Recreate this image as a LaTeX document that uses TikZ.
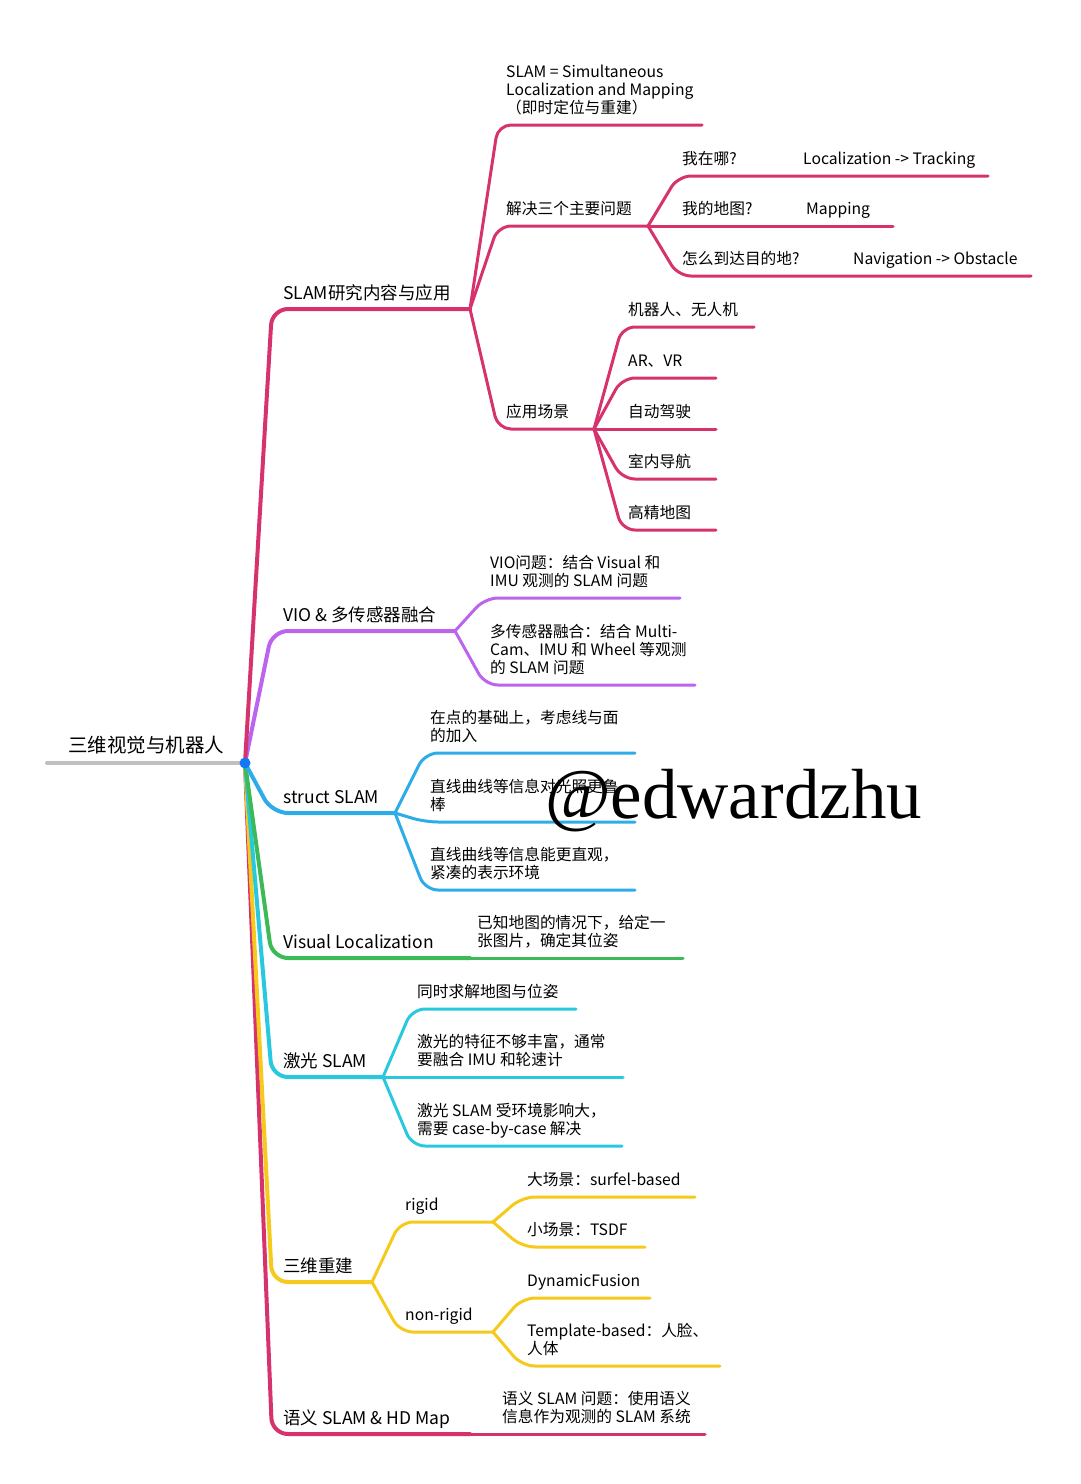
\documentclass[tikz,border=0pt]{standalone}
\usepackage{fontspec}
\setmainfont{Noto Sans CJK SC}
\newfontfamily\markfont{Liberation Serif}
\usepackage{xcolor}
\usetikzlibrary{calc}

\definecolor{rootgray}{RGB}{192,192,192}
\definecolor{hubblue}{RGB}{20,120,245}
\definecolor{mapred}{RGB}{214,50,110}
\definecolor{mappurple}{RGB}{188,100,238}
\definecolor{mapblue}{RGB}{45,172,232}
\definecolor{mapgreen}{RGB}{60,186,88}
\definecolor{mapcyan}{RGB}{40,200,222}
\definecolor{mapyellow}{RGB}{246,202,28}

\tikzset{
	trunk/.style = {line width = 4pt, rounded corners = 16pt, line cap = round},
	twig/.style = {line width = 3pt, rounded corners = 13pt, line cap = round},
	leaf/.style = {anchor = south west, inner sep = 0pt, align = left, yshift = 5.6pt,
		font = \fontsize{15.7}{18}\selectfont, execute at end node = \strut},
	bough/.style = {leaf, yshift = -3pt, font = \fontsize{17.5}{21}\selectfont},
}

% connector: from a junction, over a corner, along the underline
\newcommand{\limb}[4][]{\draw[#1] (#2) -- ($(#2|-#3)+(#4,0)$) -- (#3);}

\begin{document}
\begin{tikzpicture}[x = 1pt, y = -1pt]
	\useasboundingbox (0,0) rectangle (1080,1484);
	
	%centre of the map
	\coordinate (hub) at (245,763);
	\coordinate (rootL) at (47,763);
	\def\off{28};
	
	\draw [rootgray, line width = 4pt, line cap = round] (rootL) -- (hub);
	\node [leaf, yshift = -2.5pt, font = \fontsize{19.5}{23}\selectfont] (root) at (68,763) {三维视觉与机器人};
	
	%ends of the main branches
	\coordinate (slamJ) at (470,309);
	\coordinate (vioJ) at (455,631);
	\coordinate (structJ) at (395,813);
	\coordinate (vlocJ) at (470,958);
	\coordinate (laserJ) at (383,1077);
	\coordinate (reconJ) at (372,1282);
	\coordinate (semJ) at (470,1434);
	
	\limb[trunk, mapred]{hub}{semJ}{27}
	\limb[trunk, mapyellow]{hub}{reconJ}{27}
	\limb[trunk, mapcyan]{hub}{laserJ}{27}
	\limb[trunk, mapgreen]{hub}{vlocJ}{27}
	\limb[trunk, mapblue]{hub}{structJ}{27}
	\limb[trunk, mappurple]{hub}{vioJ}{27}
	\limb[trunk, mapred]{hub}{slamJ}{27}
	
	\node [bough] (slam) at (283,309) {SLAM研究内容与应用};
	\node [bough] (vio) at (283,631) {VIO \& 多传感器融合};
	\node [bough] (struct) at (283,813) {struct SLAM};
	\node [bough] (vloc) at (283,958) {Visual Localization};
	\node [bough] (laser) at (283,1077) {激光 SLAM};
	\node [bough] (recon) at (283,1282) {三维重建};
	\node [bough] (sem) at (283,1434) {语义 SLAM \& HD Map};
	
	%SLAM research and applications
	\coordinate (defE) at (702,125);
	\coordinate (probJ) at (648,226);
	\coordinate (appJ) at (594,429);
	
	\limb[twig, mapred]{slamJ}{defE}{\off}
	\limb[twig, mapred]{slamJ}{probJ}{\off}
	\limb[twig, mapred]{slamJ}{appJ}{\off}
	
	\node [leaf] (def) at (506,125) {SLAM = Simultaneous\\Localization and Mapping\\（即时定位与重建）};
	\node [leaf] (prob) at (506,226) {解决三个主要问题};
	\node [leaf] (app) at (506,429) {应用场景};
	
	%three main problems
	\coordinate (whereE) at (988,176);
	\coordinate (mapE) at (893,226);
	\coordinate (howE) at (1031,276);
	
	\limb[twig, mapred]{probJ}{whereE}{30}
	\limb[twig, mapred]{probJ}{mapE}{30}
	\limb[twig, mapred]{probJ}{howE}{30}
	
	\node [leaf] (where) at (682,176) {我在哪?};
	\node [leaf] (whereEn) at (803,176) {Localization -> Tracking};
	\node [leaf] (map) at (682,226) {我的地图?};
	\node [leaf] (mapEn) at (806,226) {Mapping};
	\node [leaf] (how) at (682,276) {怎么到达目的地?};
	\node [leaf] (howEn) at (853,276) {Navigation -> Obstacle};
	
	%application scenes
	\coordinate (robotE) at (754,327);
	\coordinate (arvrE) at (716,378);
	\coordinate (driveE) at (716,429);
	\coordinate (indoorE) at (716,479);
	\coordinate (hdmapE) at (716,530);
	
	\limb[twig, mapred]{appJ}{robotE}{\off}
	\limb[twig, mapred]{appJ}{arvrE}{\off}
	\limb[twig, mapred]{appJ}{driveE}{\off}
	\limb[twig, mapred]{appJ}{indoorE}{\off}
	\limb[twig, mapred]{appJ}{hdmapE}{\off}
	
	\node [leaf] (robot) at (628,327) {机器人、无人机};
	\node [leaf] (arvr) at (628,378) {AR、VR};
	\node [leaf] (drive) at (628,429) {自动驾驶};
	\node [leaf] (indoor) at (628,479) {室内导航};
	\node [leaf] (hdmap) at (628,530) {高精地图};
	
	%VIO and sensor fusion
	\coordinate (vioE) at (680,598);
	\coordinate (fuseE) at (695,685);
	
	\limb[twig, mappurple]{vioJ}{vioE}{30}
	\limb[twig, mappurple]{vioJ}{fuseE}{30}
	
	\node [leaf] (vioq) at (490,598) {VIO问题：结合 Visual 和\\IMU 观测的 SLAM 问题};
	\node [leaf] (fuse) at (490,685) {多传感器融合：结合 Multi-\\Cam、IMU 和 Wheel 等观测\\的 SLAM 问题};
	
	%struct SLAM
	\coordinate (lineE) at (635,753);
	\coordinate (robustE) at (635,822);
	\coordinate (compactE) at (635,890);
	
	\limb[twig, mapblue]{structJ}{lineE}{30}
	\limb[twig, mapblue]{structJ}{robustE}{30}
	\limb[twig, mapblue]{structJ}{compactE}{30}
	
	\node [leaf] (line) at (430,753) {在点的基础上，考虑线与面\\的加入};
	\node [leaf] (robust) at (430,822) {直线曲线等信息对光照更鲁\\棒};
	\node [leaf] (compact) at (430,890) {直线曲线等信息能更直观，\\紧凑的表示环境};
	
	%visual localization
	\coordinate (poseE) at (683,958);
	
	\draw [twig, mapgreen] (vlocJ) -- (poseE);
	\node [leaf] (pose) at (477,958) {已知地图的情况下，给定一\\张图片，确定其位姿};
	
	%laser SLAM
	\coordinate (solveE) at (576,1009);
	\coordinate (imuE) at (623,1077);
	\coordinate (envE) at (622,1146);
	
	\limb[twig, mapcyan]{laserJ}{solveE}{29}
	\limb[twig, mapcyan]{laserJ}{imuE}{29}
	\limb[twig, mapcyan]{laserJ}{envE}{29}
	
	\node [leaf] (solve) at (417,1009) {同时求解地图与位姿};
	\node [leaf] (imu) at (417,1077) {激光的特征不够丰富，通常\\要融合 IMU 和轮速计};
	\node [leaf] (env) at (417,1146) {激光 SLAM 受环境影响大，\\需要 case-by-case 解决};
	
	%3D reconstruction
	\coordinate (rigidJ) at (493,1222);
	\coordinate (nonrigidJ) at (493,1332);
	
	\limb[twig, mapyellow]{reconJ}{rigidJ}{\off}
	\limb[twig, mapyellow]{reconJ}{nonrigidJ}{\off}
	
	\node [leaf] (rigid) at (405,1222) {rigid};
	\node [leaf] (nonrigid) at (405,1332) {non-rigid};
	
	\coordinate (bigE) at (695,1197);
	\coordinate (smallE) at (645,1247);
	\coordinate (dynE) at (650,1298);
	\coordinate (tplE) at (720,1366);
	
	\limb[twig, mapyellow]{rigidJ}{bigE}{29}
	\limb[twig, mapyellow]{rigidJ}{smallE}{29}
	\limb[twig, mapyellow]{nonrigidJ}{dynE}{29}
	\limb[twig, mapyellow]{nonrigidJ}{tplE}{29}
	
	\node [leaf] (big) at (527,1197) {大场景：surfel-based};
	\node [leaf] (small) at (527,1247) {小场景：TSDF};
	\node [leaf] (dyn) at (527,1298) {DynamicFusion};
	\node [leaf] (tpl) at (527,1366) {Template-based：人脸、\\人体};
	
	%semantic SLAM
	\coordinate (semqE) at (705,1434);
	
	\draw [twig, mapred] (semJ) -- (semqE);
	\node [leaf] (semq) at (502,1434) {语义 SLAM 问题：使用语义\\信息作为观测的 SLAM 系统};
	
	\fill [hubblue] (hub) circle [radius = 5.5];
	
	%watermark
	\node [anchor = base west, inner sep = 0pt, font = \markfont\fontsize{71}{80}\selectfont] (mark) at (545,818) {@edwardzhu};
\end{tikzpicture}
\end{document}
